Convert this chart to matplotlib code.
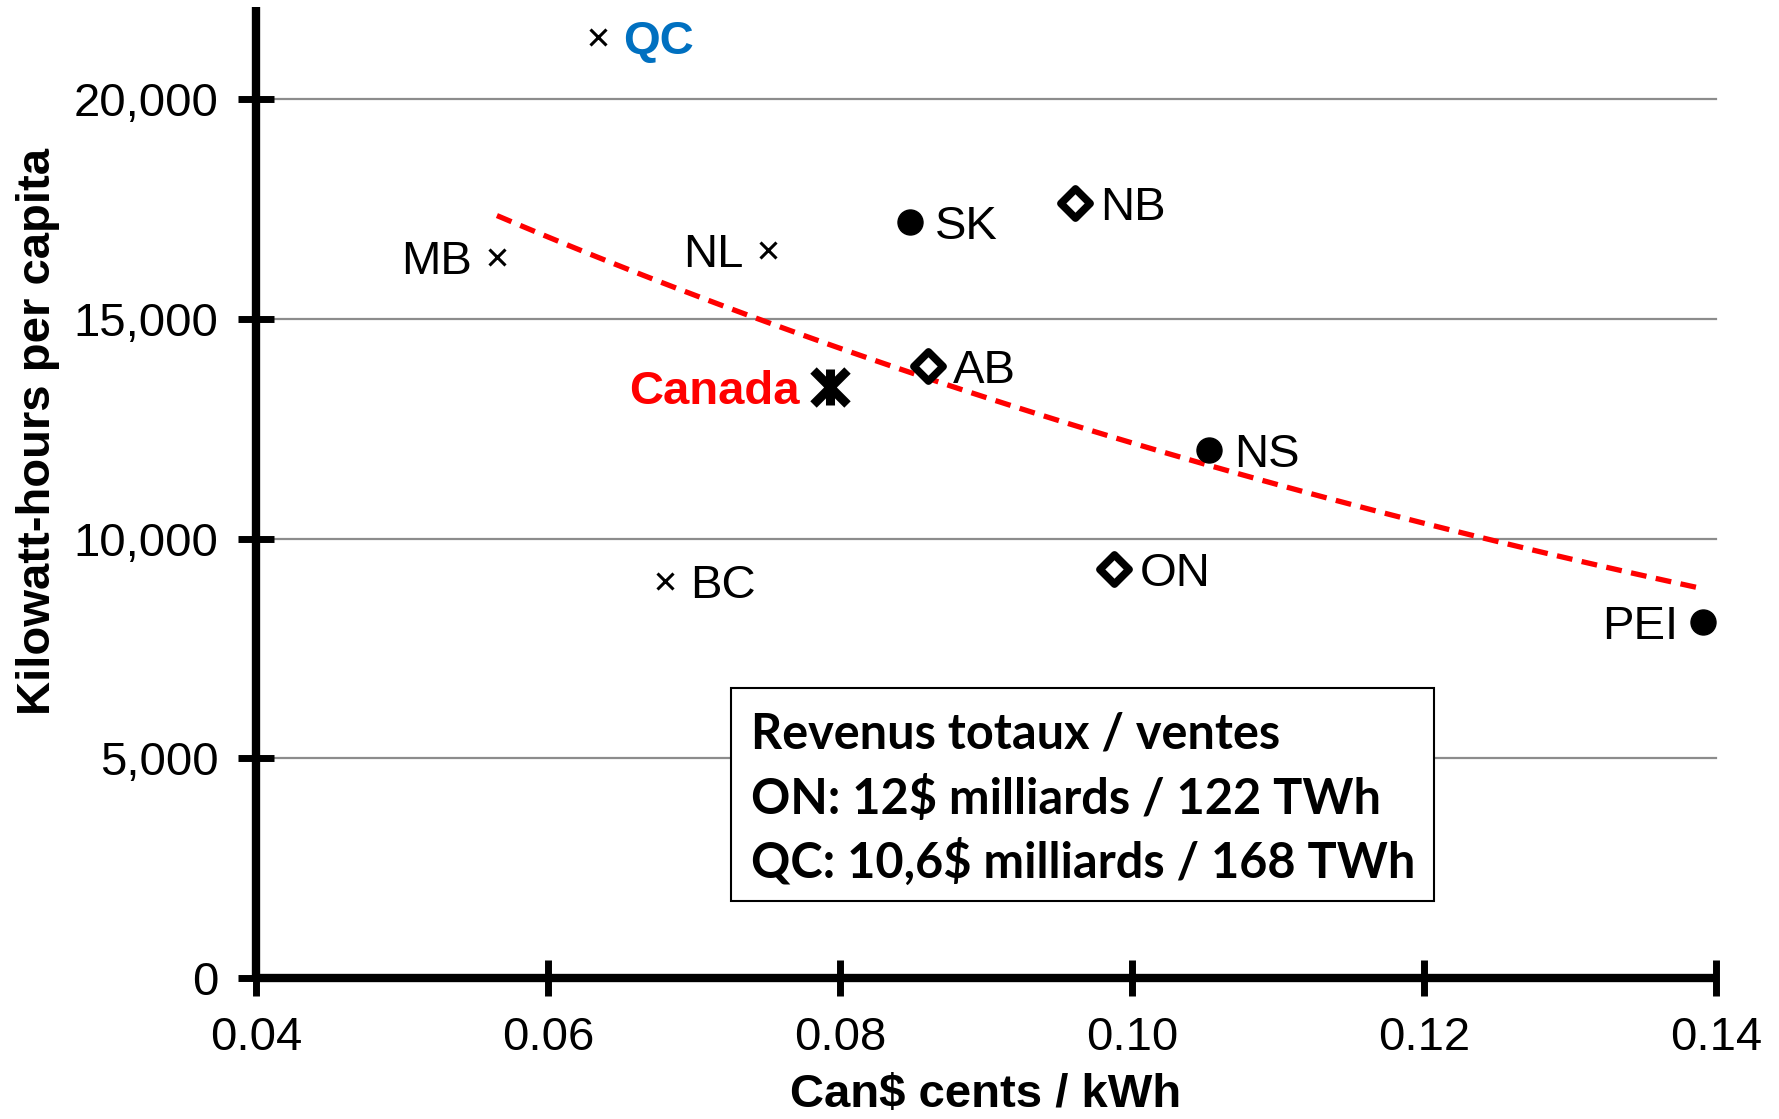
import numpy as np
import matplotlib
matplotlib.use("Agg")
import matplotlib.pyplot as plt
from matplotlib.patches import Rectangle
from matplotlib.path import Path


# =========================
# 1. Data
# =========================

provinces = ["QC", "MB", "NL", "BC", "SK", "NS", "PEI", "NB", "AB", "ON"]
price = [0.0634, 0.0565, 0.0751, 0.0680, 0.0848, 0.1053, 0.1391, 0.0961, 0.0860, 0.0988]
kwh_per_capita = [21420, 16410, 16560, 9040, 17210, 12020, 8110, 17650, 13930, 9300]
marker_group = ["x", "x", "x", "x", "o", "o", "o", "d", "d", "d"]

canada_price = 0.0793
canada_kwh = 13460

box_lines = [
    "Revenus totaux / ventes",
    "ON: 12$ milliards / 122 TWh",
    "QC: 10,6$ milliards / 168 TWh",
]

x_ticks = [0.04, 0.06, 0.08, 0.10, 0.12, 0.14]
y_ticks = [0, 5000, 10000, 15000, 20000]

# label side: +1 right of marker, -1 left of marker
label_side = {"QC": 1, "MB": -1, "NL": -1, "BC": 1, "SK": 1, "NS": 1,
              "PEI": -1, "NB": 1, "AB": 1, "ON": 1}


# =========================
# 2. Figure
# =========================

plt.rcParams["font.family"] = ["Liberation Sans", "DejaVu Sans"]

# diamond like the spreadsheet marker
diamond = Path([(0, 1), (1, 0), (0, -1), (-1, 0), (0, 1)],
               [Path.MOVETO, Path.LINETO, Path.LINETO, Path.LINETO, Path.CLOSEPOLY])

fig = plt.figure(figsize=(17.79, 11.19), dpi=100)
ax = fig.add_axes([0.1439, 0.1260, 0.8207, 0.8677])

ax.set_xlim(0.04, 0.14)
ax.set_ylim(0, 22100)

for y in y_ticks[1:]:
    ax.plot([0.04, 0.14], [y, y], color="#8c8c8c", lw=1.6, zorder=1, clip_on=False)

# exponential trend line over provinces
px = np.array(price)
py = np.array(kwh_per_capita)
b, log_a = np.polyfit(px, np.log(py), 1)
trend_x = np.linspace(px.min(), px.max(), 100)
trend_y = np.exp(log_a) * np.exp(b * trend_x)
ax.plot(trend_x, trend_y, color="#ff0000", lw=3.8, dashes=(3, 1.8), zorder=2)

for name, x, y, m in zip(provinces, price, kwh_per_capita, marker_group):
    if m == "x":
        ax.plot(x, y, marker="x", ms=11, mew=2.2, color="black", ls="none", zorder=4)
    elif m == "o":
        ax.plot(x, y, marker="o", ms=18, color="black", ls="none", zorder=4)
    else:
        ax.plot(x, y, marker=diamond, ms=21, mew=5.5, mfc="white", mec="black",
                ls="none", zorder=4)

    side = label_side[name]
    if name == "QC":
        color, weight = "#0070c0", "bold"
    else:
        color, weight = "black", "normal"
    ax.annotate(name, (x, y), xytext=(18 * side, 0), textcoords="offset points",
                ha="left" if side > 0 else "right", va="center_baseline",
                fontsize=34, color=color, fontweight=weight, zorder=5)

ax.plot(canada_price, canada_kwh, marker="x", ms=24, mew=6.5, color="black", zorder=5)
ax.plot(canada_price, canada_kwh, marker="|", ms=26, mew=6.5, color="black", zorder=5)
ax.annotate("Canada", (canada_price, canada_kwh), xytext=(-22, 0),
            textcoords="offset points", ha="right", va="center_baseline",
            fontsize=34, color="#ff0000", fontweight="bold", zorder=5)

# axes styling
for side in ["top", "right"]:
    ax.spines[side].set_visible(False)
for side in ["left", "bottom"]:
    ax.spines[side].set_linewidth(6)
    ax.spines[side].set_capstyle("butt")

ax.set_xticks(x_ticks)
ax.set_xticklabels([f"{t:.2f}" for t in x_ticks])
ax.set_yticks(y_ticks)
ax.set_yticklabels([f"{t:,}" for t in y_ticks])
ax.tick_params(axis="both", direction="inout", length=26, width=5, labelsize=34)
ax.tick_params(axis="x", pad=14)
ax.tick_params(axis="y", pad=14)

ax.set_xlabel("Can$ cents / kWh", fontsize=34, fontweight="bold", labelpad=10)
ax.set_ylabel("Kilowatt-hours per capita", fontsize=34, fontweight="bold")
ax.yaxis.set_label_coords(-0.134, 0.563)

# text box
fig.add_artist(Rectangle((0.4109, 0.1948), 0.3952, 0.1903, transform=fig.transFigure,
                         facecolor="white", edgecolor="black", lw=1.5, zorder=6))
line_y = [0.3441, 0.2860, 0.2297]
for text, y in zip(box_lines, line_y):
    fig.text(0.4221, y, text, ha="left", va="center", fontsize=35,
             fontweight="bold", family=["Lato", "DejaVu Sans"], zorder=7)

fig.savefig("out.png", dpi=100)
